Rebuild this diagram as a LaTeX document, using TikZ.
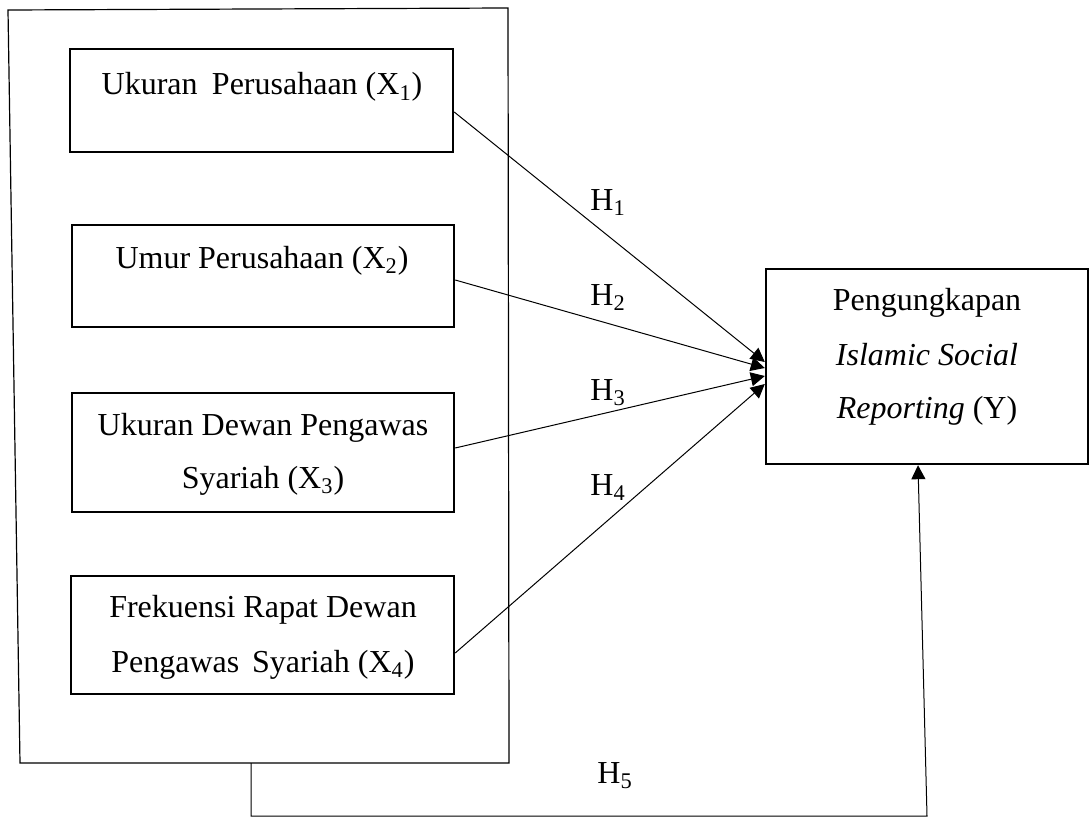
\documentclass[tikz,border=0pt]{standalone}
\usepackage{fontspec}
\setmainfont{Liberation Serif}
\usetikzlibrary{arrows.meta,fit}
\begin{document}
\begin{tikzpicture}[x=0.5pt,y=-0.5pt,
  box/.style={draw, line width=1.2pt, inner sep=0pt},
  txt/.style={inner sep=0pt, anchor=base, font=\fontsize{16}{27.5}\selectfont},
  hyp/.style={draw, line width=0.5pt, -{Triangle[length=7pt,width=7pt]}},
  hl/.style={inner sep=0pt, anchor=base west, font=\fontsize{16}{20}\selectfont}]
\useasboundingbox (0,0) rectangle (1090,818);
% outer group frame
\draw[line width=0.6pt] (8,10) -- (508,8) -- (509,763) -- (20,763) -- cycle;
% boxes
\node[box, fit={(70,49) (453,152)}] (b1) {};
\node[box, fit={(72,225) (454,327)}] (b2) {};
\node[box, fit={(72,393) (454,512)}] (b3) {};
\node[box, fit={(71,576) (454,694)}] (b4) {};
\node[box, fit={(766,269) (1088,464)}] (y) {};
% texts
\node[txt] (t1) at (262,95) {Ukuran\hspace{0.45em}Perusahaan (X\textsubscript{1})};
\node[txt] (t2) at (262,268) {Umur Perusahaan (X\textsubscript{2})};
\node[txt] (t3a) at (263,435) {Ukuran Dewan Pengawas};
\node[txt] (t3b) at (263,488) {Syariah (X\textsubscript{3})};
\node[txt] (t4a) at (263,617) {Frekuensi Rapat Dewan};
\node[txt] (t4b) at (263,672) {Pengawas\hspace{0.4em}Syariah (X\textsubscript{4})};
\node[txt] (ty1) at (927,310) {Pengungkapan};
\node[txt] (ty2) at (927,365) {\textit{Islamic Social}};
\node[txt] (ty3) at (927,418) {\textit{Reporting} (Y)};
% hypothesis labels
\node[hl] (h1) at (590,210) {H\textsubscript{1}};
\node[hl] (h2) at (590,305) {H\textsubscript{2}};
\node[hl] (h3) at (590,400) {H\textsubscript{3}};
\node[hl] (h4) at (590,495) {H\textsubscript{4}};
\node[hl] (h5) at (597,783) {H\textsubscript{5}};
% connectors
\draw[hyp] ([yshift=-5.75pt]b1.east) -- ([yshift=2.25pt]y.west);
\draw[hyp] ([yshift=-2pt]b2.east) -- ([yshift=-0.75pt]y.west);
\draw[hyp] ([yshift=2.25pt]b3.east) -- ([yshift=-4.75pt]y.west);
\draw[hyp] ([yshift=-9pt]b4.east) -- ([yshift=-8.75pt]y.west);
\coordinate (gb) at (251,763);
\coordinate (c1) at (251,816);
\coordinate (c2) at (927,816);
\draw[hyp] (gb) -- (c1) -- (c2) -- ([xshift=-4.5pt]y.south);
\end{tikzpicture}
\end{document}
